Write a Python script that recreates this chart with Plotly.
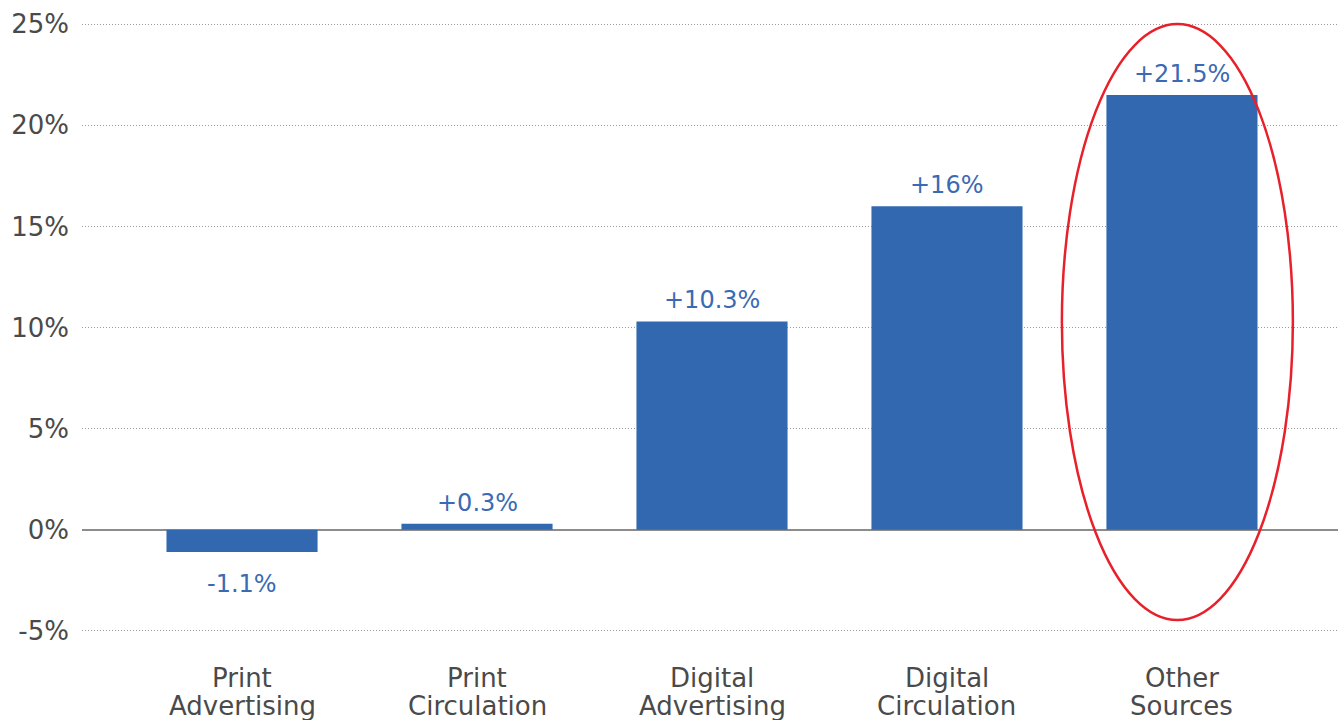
import plotly.graph_objects as go

# Revenue growth by source
categories = [("Print", "Advertising"), ("Print", "Circulation"), ("Digital", "Advertising"),
              ("Digital", "Circulation"), ("Other", "Sources")]
growth = [-1.1, 0.3, 10.3, 16.0, 21.5]
labels = ["-1.1%", "+0.3%", "+10.3%", "+16%", "+21.5%"]
tick_vals = [-5, 0, 5, 10, 15, 20, 25]
tick_text = ["-5%", "0%", "5%", "10%", "15%", "20%", "25%"]

BAR = "#3268B0"
FONT = "DejaVu Sans"
AXIS_TEXT = "#4A4A4A"

xs = list(range(len(categories)))

fig = go.Figure(go.Bar(
    x=xs,
    y=growth,
    width=0.643,
    marker=dict(color=BAR, line=dict(width=0)),
    hoverinfo="skip",
))

# value labels above positive bars, below negative ones
for i, (v, t) in enumerate(zip(growth, labels)):
    fig.add_annotation(
        x=i, y=v, text=t, showarrow=False,
        yanchor="bottom" if v >= 0 else "top",
        yshift=5 if v >= 0 else -16,
        font=dict(family=FONT, size=24, color="#3A6AB4"),
    )

# two-line category labels under the axis, set with a tight line gap
for i, (first, second) in enumerate(categories):
    for line_no, word in enumerate((first, second)):
        fig.add_annotation(
            x=i, xref="x", y=0, yref="paper", text=word, showarrow=False,
            yanchor="middle", yshift=-28 - 28 * line_no,
            font=dict(family=FONT, size=26, color=AXIS_TEXT),
        )

# highlight ring around the last category
fig.add_shape(type="circle", xref="x", yref="y",
              x0=3.489, x1=4.472, y0=-4.46, y1=25.0,
              line=dict(color="#E8202A", width=2.5), layer="above")

fig.update_layout(
    width=1338, height=720,
    margin=dict(l=82, r=0, t=14, b=70),
    paper_bgcolor="white", plot_bgcolor="white",
    showlegend=False,
    font=dict(family=FONT, color=AXIS_TEXT, size=26),
)
fig.update_xaxes(
    range=[-0.681, 4.664],
    showticklabels=False,
    showgrid=False, showline=False, zeroline=False, ticks="",
)
fig.update_yaxes(
    range=[-5.94, 25.5],
    tickvals=tick_vals, ticktext=tick_text,
    showgrid=True, gridcolor="#9A9A9A", griddash="1px,2px", gridwidth=1,
    zeroline=True, zerolinecolor="#8C8C8C", zerolinewidth=1.5,
    showline=False, ticks="", ticklabelstandoff=12,
    tickfont=dict(family=FONT, size=26, color=AXIS_TEXT),
)

fig.write_html("out.html")
